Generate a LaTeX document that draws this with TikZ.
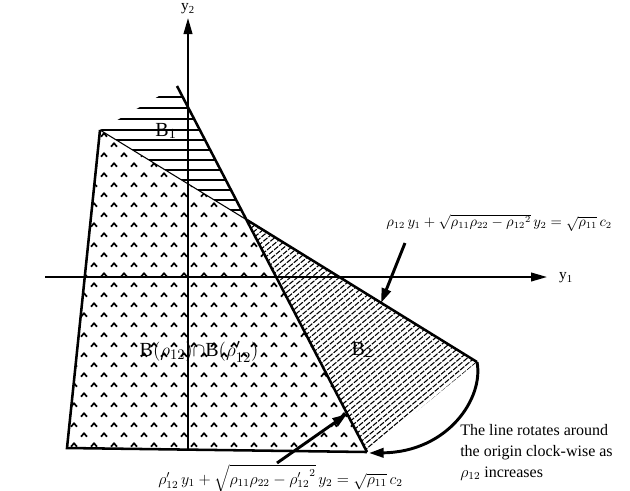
\documentclass[tikz,border=0pt]{standalone}
\usepackage{amsmath,amssymb}
\usepackage{fontspec}
\setmainfont{Liberation Serif}
\usetikzlibrary{arrows.meta}

\tikzset{
  axis/.style={line width=1.4pt,-{Triangle[length=12pt,width=6.5pt]}},
  edge/.style={line width=1.9pt},
  thinedge/.style={line width=0.8pt},
  pointer/.style={line width=2.2pt,-{Triangle[length=11pt,width=7pt]}},
  caret/.style={line width=1.3pt},
  hatch/.style={line width=1.1pt},
  slant/.style={line width=0.8pt,dash pattern=on 4pt off 1pt},
  txt/.style={font=\fontsize{11.5}{15.75}\selectfont,inner sep=0pt},
  region/.style={font=\fontsize{15}{17}\selectfont,inner sep=0pt},
}

\begin{document}
\begin{tikzpicture}[x=0.75pt,y=-0.75pt]
  \useasboundingbox (0,0) rectangle (630,490);

  % corner points of the regions
  \coordinate (A)  at (100,130);
  \coordinate (BL) at (67,448);
  \coordinate (BR) at (367,452);
  \coordinate (P)  at (247,220);
  \coordinate (Q)  at (477,362);
  \coordinate (T)  at (177,86);
  \coordinate (K)  at (166,92);
  \coordinate (Ks) at (180,92);
  \coordinate (R)  at (369,453);

  % carets inside the intersection
  \begin{scope}
    \clip (A) -- (BL) -- (BR) -- (P) -- cycle;
    \foreach \r in {0,...,33}{
      \pgfmathsetmacro\rowy{125+10*\r}
      \pgfmathsetmacro\shift{10*mod(\r,2)}
      \foreach \c in {0,...,16}
        \draw[caret] (51+20*\c+\shift,\rowy+1.7) -- ++(3,-3.4) -- ++(3,3.4);
    }
  \end{scope}

  % B1 hatching
  \begin{scope}
    \clip (A) -- (K) -- (Ks) -- (P) -- cycle;
    \foreach \hy in {97,108,119,130,140,150,160,170,180,190,200,210}
      \draw[hatch] (90,\hy) -- (260,\hy);
  \end{scope}

  % B2 hatching
  \begin{scope}
    \clip (P) -- (Q) -- (BR) -- cycle;
    \foreach \sx in {-60,-53,...,490}
      \draw[slant] (\sx,460) -- ++(300,-252);
  \end{scope}

  % boundaries
  \draw[edge] (A) -- (BL) -- (BR);
  \draw[edge] (T) -- (BR);
  \draw[thinedge] (A) -- (P);
  \draw[edge] (P) -- (Q);
  \draw[pointer] (Q) .. controls (484,398) and (448,452) .. (R);

  % axes
  \coordinate (xs) at (45,277);
  \coordinate (xe) at (547,277);
  \coordinate (ys) at (188,449);
  \coordinate (ye) at (188,18);
  \draw[axis] (xs) -- (xe);
  \draw[axis] (ys) -- (ye);
  \node[txt] (lblY1) at (566,278) {y\textsubscript{1}};
  \node[txt] (lblY2) at (188,9) {y\textsubscript{2}};

  % region labels
  \node[region] (lblB1) at (166,131) {B\textsubscript{1}};
  \node[region] (lblB2) at (362,350) {B\textsubscript{2}};
  \node[region] (lblCap) at (199,352) {B$(\rho_{12})\cap$B$(\rho_{12}')$};

  % the two lines
  \node[txt,font=\fontsize{10.5}{14}\selectfont,anchor=west] (eqUp) at (386,223)
    {$\rho_{12}\,y_1+\sqrt{\rho_{11}\rho_{22}-{\rho_{12}}^{2}}\,y_2=\sqrt{\rho_{11}}\,c_2$};
  \node[txt,anchor=west] (eqLow) at (158,478)
    {$\rho_{12}'\,y_1+\sqrt{\rho_{11}\rho_{22}-{\rho_{12}'}^{2}}\,y_2=\sqrt{\rho_{11}}\,c_2$};
  \coordinate (upTail) at (405,243);
  \coordinate (upTip) at (381,303);
  \coordinate (lowTail) at (277,463);
  \coordinate (lowTip) at (347,414);
  \draw[pointer] (upTail) -- (upTip);
  \draw[pointer] (lowTail) -- (lowTip);

  \node[txt,font=\fontsize{12}{15.75}\selectfont,anchor=north west,align=left] (note) at (460,424)
    {The line rotates around\\the origin clock-wise as\\$\rho_{12}$ increases};
\end{tikzpicture}
\end{document}
